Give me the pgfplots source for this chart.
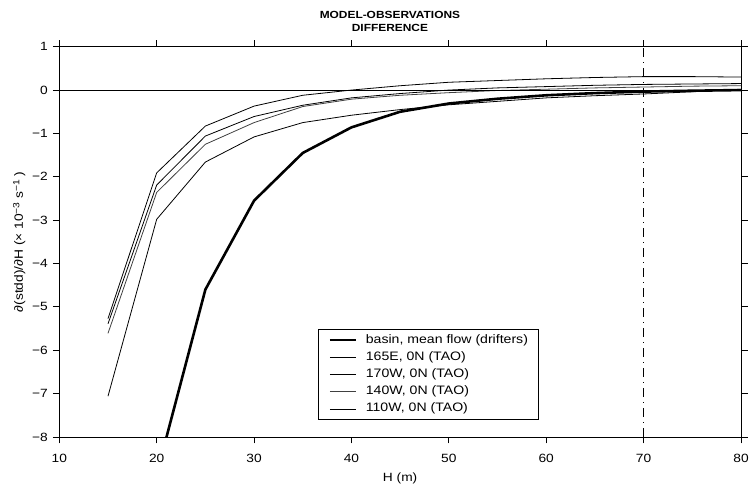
\documentclass[border=0pt]{standalone}
\usepackage{pgfplots}
\pgfplotsset{compat=1.18}
\usepackage{fontspec}
\setmainfont[FakeStretch=1.15]{Liberation Sans}
\begin{document}
\begin{tikzpicture}
\useasboundingbox (-59.3bp,-52bp) rectangle (690.7bp,437bp);
\begin{axis}[
  at={(0,0)}, anchor=south west,
  scale only axis, width=681.7bp, height=390.3bp,
  xmin=10, xmax=80, ymin=-8, ymax=1,
  xtick={10,20,...,80},
  xticklabels={10,20,30,40,50,60,70,80},
  ytick={-8,-7,...,1},
  yticklabels={−8,−7,−6,−5,−4,−3,−2,−1,0,1},
  tick align=outside,
  major tick length=6.5bp,
  minor tick num=0,
  axis line style={line width=0.8bp, black},
  every tick/.style={line width=0.8bp, black},
  tick label style={font=\fontsize{12}{13}\selectfont},
  xticklabel style={yshift=-7bp},
  yticklabel style={xshift=-1.5bp},
  xlabel={H (m)},
  xlabel style={font=\fontsize{12}{13}\selectfont, yshift=-4bp},
  ylabel={∂(stdd)/∂H (× 10\raisebox{0.55ex}{\fontsize{9}{10}\selectfont −3} s\raisebox{0.55ex}{\fontsize{9}{10}\selectfont −1} )},
  ylabel style={font=\fontsize{12}{13}\selectfont, yshift=0bp},
  title={MODEL-OBSERVATIONS\\DIFFERENCE},
  title style={at={(0.485,1)}, anchor=south, yshift=8.5bp, align=center, inner sep=0pt,
    font=\bfseries\fontsize{10.4}{13}\selectfont},
  legend cell align=left,
  legend style={
    at={(0.379,0.276)}, anchor=north west,
    draw=black, line width=0.8bp,
    inner xsep=10.5bp, inner ysep=4.5bp,
    row sep=5.2bp, column sep=8.7bp,
    nodes={inner sep=0pt, text height=9bp, text depth=3bp,
      font=\fontsize{12.3}{13}\selectfont},
  },
  legend image code/.code={\draw[#1] (0bp,0bp) -- (26bp,0bp);},
]
\addplot[black, line width=2.6bp] coordinates {
 (20,-8.86) (25,-4.6) (30,-2.55) (35,-1.45) (40,-0.86) (45,-0.5) (50,-0.31)
 (55,-0.2) (60,-0.12) (65,-0.07) (70,-0.035) (75,-0.015) (80,0)};
\addlegendentry{basin, mean flow (drifters)}
\addplot[black, line width=0.8bp] coordinates {
 (15,-5.27) (20,-1.91) (25,-0.83) (30,-0.37) (35,-0.12) (40,0.0) (45,0.1)
 (50,0.18) (55,0.22) (60,0.26) (65,0.29) (70,0.31) (75,0.31) (80,0.30)};
\addlegendentry{165E, 0N (TAO)}
\addplot[black, line width=0.8bp] coordinates {
 (15,-5.39) (20,-2.19) (25,-1.06) (30,-0.61) (35,-0.35) (40,-0.18) (45,-0.08)
 (50,0.0) (55,0.05) (60,0.08) (65,0.11) (70,0.13) (75,0.14) (80,0.15)};
\addlegendentry{170W, 0N (TAO)}
\addplot[black!75, line width=0.8bp] coordinates {
 (15,-5.61) (20,-2.36) (25,-1.25) (30,-0.75) (35,-0.38) (40,-0.21) (45,-0.12)
 (50,-0.06) (55,-0.01) (60,0.02) (65,0.05) (70,0.07) (75,0.09) (80,0.10)};
\addlegendentry{140W, 0N (TAO)}
\addplot[black, line width=0.8bp] coordinates {
 (15,-7.06) (20,-2.98) (25,-1.66) (30,-1.08) (35,-0.75) (40,-0.58) (45,-0.45)
 (50,-0.34) (55,-0.26) (60,-0.18) (65,-0.13) (70,-0.09) (75,-0.04) (80,0.02)};
\addlegendentry{110W, 0N (TAO)}
\addplot[black, line width=0.8bp, forget plot] coordinates {(10,0) (80,0)};
\addplot[black, line width=0.8bp, forget plot, dash pattern=on 9bp off 5bp on 1bp off 5bp] coordinates {(70,-8) (70,1)};
\end{axis}
\end{tikzpicture}
\end{document}
